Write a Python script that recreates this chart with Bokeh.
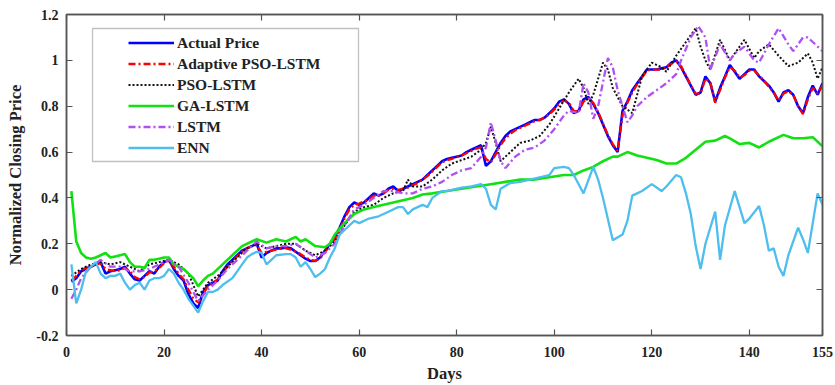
from bokeh.plotting import figure
from bokeh.models import Range1d, FixedTicker, LinearAxis, Legend, LegendItem, BoxAnnotation
from bokeh.embed import file_html
from bokeh.resources import INLINE

# ---------------- data ----------------
days = list(range(1, 156))

actual_price = [0.035,0.05,0.08,0.09,0.10,0.11,0.12,0.07,0.08,0.085,
 0.09,0.10,0.07,0.045,0.04,0.06,0.08,0.07,0.10,0.12,
 0.13,0.09,0.06,0.04,-0.02,-0.06,-0.08,-0.01,0.02,0.03,
 0.04,0.08,0.11,0.13,0.15,0.17,0.18,0.19,0.20,0.14,
 0.16,0.17,0.18,0.18,0.185,0.18,0.165,0.15,0.135,0.125,
 0.125,0.14,0.17,0.20,0.23,0.27,0.32,0.36,0.38,0.37,
 0.38,0.40,0.42,0.41,0.42,0.44,0.45,0.43,0.44,0.45,
 0.46,0.47,0.48,0.50,0.52,0.54,0.56,0.57,0.575,0.58,
 0.585,0.60,0.61,0.62,0.63,0.54,0.56,0.60,0.64,0.67,
 0.69,0.70,0.71,0.72,0.73,0.74,0.74,0.75,0.77,0.79,
 0.82,0.83,0.81,0.77,0.78,0.83,0.84,0.81,0.77,0.72,
 0.67,0.63,0.60,0.78,0.82,0.87,0.90,0.93,0.96,0.96,
 0.96,0.965,0.97,0.99,1.00,0.97,0.93,0.89,0.85,0.86,
 0.93,0.90,0.82,0.88,0.93,0.98,0.95,0.92,0.94,0.96,
 0.96,0.93,0.91,0.89,0.86,0.82,0.86,0.87,0.85,0.80,
 0.77,0.84,0.89,0.85,0.90]

adaptive_pso_lstm = [0.04,0.06,0.085,0.095,0.10,0.11,0.115,0.09,0.085,0.08,
 0.085,0.095,0.08,0.055,0.045,0.055,0.075,0.08,0.095,0.115,
 0.125,0.10,0.07,0.045,0.0,-0.04,-0.055,-0.02,0.015,0.03,
 0.045,0.075,0.10,0.125,0.145,0.165,0.18,0.19,0.195,0.16,
 0.165,0.17,0.175,0.18,0.18,0.175,0.165,0.155,0.14,0.13,
 0.125,0.135,0.165,0.19,0.22,0.26,0.31,0.35,0.37,0.375,
 0.385,0.395,0.41,0.41,0.42,0.435,0.44,0.435,0.44,0.445,
 0.455,0.465,0.48,0.495,0.515,0.535,0.555,0.565,0.57,0.58,
 0.585,0.595,0.605,0.615,0.62,0.57,0.555,0.59,0.63,0.66,
 0.68,0.695,0.705,0.715,0.725,0.735,0.74,0.75,0.765,0.785,
 0.81,0.825,0.815,0.78,0.775,0.82,0.835,0.815,0.775,0.725,
 0.675,0.635,0.605,0.76,0.815,0.86,0.895,0.925,0.955,0.96,
 0.96,0.96,0.97,0.985,0.995,0.975,0.935,0.89,0.855,0.855,
 0.92,0.905,0.815,0.87,0.925,0.97,0.955,0.925,0.935,0.955,
 0.955,0.935,0.91,0.885,0.86,0.825,0.855,0.865,0.85,0.80,
 0.765,0.83,0.88,0.855,0.89]

pso_days = [1,3,5,7,9,11,13,15,17,19,21,23,25,27,29,31,33,35,37,39,41,43,45,47,49,51,53,55,57,59,
            61,63,65,67,69,70,71,73,75,77,79,81,83,85,86,87,88,89,91,93,95,97,99,101,103,105,106,107,108,110,
            111,112,114,116,118,120,122,123,125,127,129,130,131,132,134,136,137,139,141,142,144,146,148,150,152,153,154,155]
pso_lstm = [0.06,0.09,0.11,0.12,0.11,0.12,0.10,0.08,0.11,0.12,0.13,0.11,0.07,-0.03,0.03,0.06,0.10,0.14,0.18,0.20,
            0.18,0.19,0.20,0.20,0.17,0.15,0.17,0.21,0.28,0.34,
            0.36,0.37,0.40,0.42,0.43,0.48,0.45,0.45,0.48,0.52,0.55,0.565,0.58,0.61,0.64,0.71,0.64,0.56,0.60,0.64,
            0.65,0.67,0.72,0.79,0.86,0.92,0.88,0.81,0.85,0.99,
            0.96,0.88,0.80,0.77,0.93,0.99,0.97,0.95,1.02,1.08,1.14,1.06,1.00,0.96,1.09,1.00,1.03,1.09,1.01,1.04,
            1.07,1.02,0.975,0.99,1.03,0.99,0.92,0.97]

ga_days = [1,2,3,4,5,6,7,8,9,10,11,12,13,14,15,16,17,18,19,20,21,22,23,24,25,26,27,28,29,30,
           32,34,36,38,39,41,43,45,47,48,49,51,53,54,55,57,59,61,63,65,67,69,71,73,75,78,81,84,87,90,
           93,96,99,102,104,106,108,110,112,113,115,117,119,121,123,125,127,129,131,133,135,136,138,140,142,144,147,149,151,153,155]
ga_lstm = [0.43,0.21,0.16,0.14,0.135,0.14,0.15,0.16,0.14,0.145,0.15,0.155,0.12,0.10,0.10,0.095,0.13,0.13,0.135,0.14,
           0.14,0.11,0.10,0.09,0.07,0.05,0.015,0.04,0.06,0.07,
           0.11,0.15,0.19,0.21,0.22,0.205,0.22,0.21,0.23,0.21,0.22,0.19,0.185,0.20,0.24,0.29,0.33,0.35,0.36,0.37,
           0.38,0.39,0.40,0.415,0.42,0.43,0.44,0.45,0.46,0.47,
           0.48,0.48,0.49,0.50,0.50,0.52,0.535,0.56,0.58,0.58,0.60,0.585,0.575,0.565,0.55,0.55,0.575,0.61,0.645,0.65,
           0.67,0.66,0.635,0.64,0.62,0.645,0.675,0.66,0.66,0.665,0.625]

lstm_days = [1,2,3,5,7,9,11,13,15,17,19,21,23,25,27,29,31,33,35,37,39,41,43,45,47,49,51,53,55,57,
             59,61,63,65,67,69,71,73,75,77,79,81,83,85,86,87,88,89,90,92,94,96,98,100,102,103,105,106,107,108,
             109,111,112,113,115,116,117,119,121,123,125,126,128,129.5,131,132,134,136,137,139,141,142,144,146,148,149,151,152,153,155]
lstm = [-0.04,0.0,0.05,0.10,0.13,0.10,0.10,0.08,0.08,0.09,0.11,0.13,0.10,0.03,-0.05,0.0,0.04,0.09,0.13,0.17,
        0.21,0.18,0.19,0.19,0.20,0.17,0.14,0.16,0.20,0.28,
        0.35,0.37,0.40,0.43,0.43,0.42,0.42,0.44,0.45,0.47,0.50,0.52,0.53,0.58,0.62,0.73,0.65,0.56,0.53,0.58,
        0.61,0.62,0.65,0.70,0.76,0.78,0.77,0.90,0.86,0.745,
        0.80,1.01,0.97,0.87,0.73,0.76,0.80,0.84,0.87,0.90,0.94,1.00,1.10,1.15,1.10,0.96,1.07,1.00,1.03,1.06,
        1.00,0.99,1.07,1.14,1.07,1.04,1.10,1.10,1.08,1.04]

enn_days = [1,2,3,4,5,6,7,8,9,10,11,12,13,14,15,16,17,18,19,20,21,22,23,24,25,26,27,28,29,30,
            31,32,34,35,36,37,38,39,40,41,42,43,45,46,47,48,49,50,51,52,53,54,55,56,57,59,60,62,64,66,
            68,69,70,71,72,73,74,75,77,78,81,83,85,86,87,88,89,91,93,95,97,99,100,102,103,104,105,106,108,109,
            110,112,114,115,116,117,118,120,122,123,125,126,127,128,129,130,131,133,134,135,137,138,139,140,142,143,144,145,146,147,
            148,150,151,152,154,155]
enn = [0.11,-0.06,0.0,0.08,0.10,0.12,0.07,0.05,0.06,0.06,0.07,0.03,0.0,0.02,0.03,0.0,0.04,0.05,0.05,0.06,
       0.09,0.07,0.03,0.0,-0.04,-0.07,-0.10,-0.05,-0.01,-0.01,
       0.0,0.02,0.05,0.08,0.11,0.14,0.155,0.165,0.16,0.11,0.13,0.15,0.155,0.155,0.14,0.10,0.12,0.09,0.055,0.07,
       0.09,0.14,0.18,0.24,0.26,0.30,0.29,0.31,0.32,0.34,
       0.36,0.36,0.33,0.35,0.36,0.37,0.36,0.40,0.43,0.43,0.445,0.45,0.46,0.44,0.37,0.35,0.44,0.465,0.47,0.48,
       0.49,0.50,0.53,0.535,0.53,0.50,0.46,0.42,0.535,0.48,
       0.40,0.215,0.24,0.30,0.41,0.42,0.43,0.46,0.43,0.45,0.50,0.49,0.42,0.33,0.19,0.09,0.20,0.34,0.13,0.28,
       0.43,0.36,0.29,0.31,0.365,0.28,0.17,0.18,0.10,0.06,
       0.15,0.27,0.22,0.16,0.42,0.37]

x_ticks = [0, 20, 40, 60, 80, 100, 120, 140, 155]
y_ticks = [-0.2, 0, 0.2, 0.4, 0.6, 0.8, 1, 1.2]
y_tick_labels = {-0.2: "-0.2", 0: "0", 0.2: "0.2", 0.4: "0.4", 0.6: "0.6", 0.8: "0.8", 1: "1", 1.2: "1.2"}

# ---------------- figure ----------------
FONT = "Liberation Serif"
AX = "#555555"

p = figure(width=835, height=385, output_backend="svg", toolbar_location=None,
           x_range=Range1d(0, 155), y_range=Range1d(-0.2, 1.2),
           min_border_left=66, min_border_right=13, min_border_top=14, min_border_bottom=50)
p.grid.visible = False
p.background_fill_color = "white"
p.border_fill_color = "white"
p.outline_line_color = AX
p.outline_line_width = 1.5

def style_axis(ax, show_labels=True):
    ax.major_tick_in = 6
    ax.major_tick_out = 0
    ax.minor_tick_line_color = None
    ax.axis_line_color = AX
    ax.axis_line_width = 1.5
    ax.major_tick_line_color = AX
    ax.major_tick_line_width = 1.2
    ax.major_label_text_font = FONT
    ax.major_label_text_font_style = "bold"
    ax.major_label_text_font_size = "14px"
    ax.major_label_text_color = "#222222" if show_labels else None
    ax.axis_label_text_font = FONT
    ax.axis_label_text_font_style = "bold"
    ax.axis_label_text_font_size = "16.5px"
    ax.axis_label_text_color = "#222222"

xa = p.xaxis[0]
xa.ticker = FixedTicker(ticks=x_ticks)
style_axis(xa)
xa.major_label_standoff = 11
xa.axis_label = "Days"
xa.axis_label_standoff = 4

ya = p.yaxis[0]
ya.ticker = FixedTicker(ticks=y_ticks)
ya.major_label_overrides = y_tick_labels
style_axis(ya)
ya.major_label_standoff = 8
ya.axis_label = "Normalized Closing Price"
ya.axis_label_standoff = 8

top_ax = LinearAxis(ticker=FixedTicker(ticks=x_ticks))
style_axis(top_ax, show_labels=False)
top_ax.major_label_standoff = 0
p.add_layout(top_ax, "above")

right_ax = LinearAxis(ticker=FixedTicker(ticks=y_ticks))
style_axis(right_ax, show_labels=False)
right_ax.major_label_standoff = 0
p.add_layout(right_ax, "right")

r_act = p.line(days, actual_price, line_color="#0000FF", line_width=2.6)
r_ada = p.line(days, adaptive_pso_lstm, line_color="#FF0000", line_width=2.3, line_dash="7 3 2 3")
r_pso = p.line(pso_days, pso_lstm, line_color="#111111", line_width=2.0, line_dash="2 2")
r_ga = p.line(ga_days, ga_lstm, line_color="#11E011", line_width=2.6)
r_lstm = p.line(lstm_days, lstm, line_color="#B050F0", line_width=2.3, line_dash="7 3 2 3")
r_enn = p.line(enn_days, enn, line_color="#4DBEEE", line_width=2.3)

box = BoxAnnotation(left=26, right=292, bottom=174, top=307,
                    left_units="screen", right_units="screen", bottom_units="screen", top_units="screen",
                    fill_color=None, fill_alpha=0, line_color="#333333", line_width=1.3)
p.add_layout(box)

legend = Legend(items=[
    LegendItem(label="Actual Price", renderers=[r_act]),
    LegendItem(label="Adaptive PSO-LSTM", renderers=[r_ada]),
    LegendItem(label="PSO-LSTM", renderers=[r_pso]),
    LegendItem(label="GA-LSTM", renderers=[r_ga]),
    LegendItem(label="LSTM", renderers=[r_lstm]),
    LegendItem(label="ENN", renderers=[r_enn]),
], location=(62, 177))
legend.padding = 0
legend.margin = 0
legend.spacing = 0
legend.glyph_width = 46
legend.glyph_height = 21
legend.label_height = 21
legend.label_standoff = 3
legend.label_text_font = FONT
legend.label_text_font_style = "bold"
legend.label_text_font_size = "15.5px"
legend.label_text_color = "#222222"
legend.border_line_color = None
legend.background_fill_alpha = 0
p.add_layout(legend)

open("out.html", "w").write(file_html(p, INLINE))
